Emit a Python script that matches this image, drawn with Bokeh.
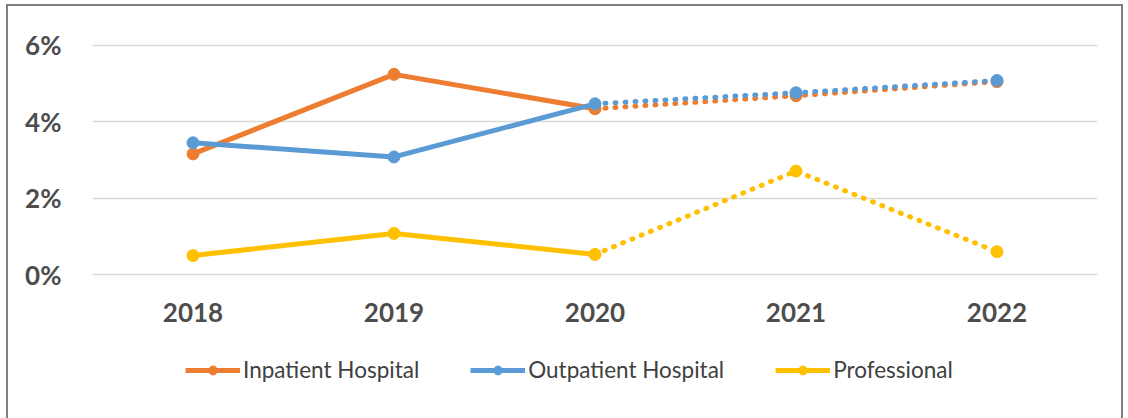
from bokeh.plotting import figure
from bokeh.layouts import column
from bokeh.models import FactorRange, Legend, LegendItem, NumeralTickFormatter, FixedTicker, InlineStyleSheet
from bokeh.embed import file_html
from bokeh.resources import INLINE

categories = ["2018", "2019", "2020", "2021", "2022"]
inpatient = [0.0316, 0.0524, 0.0434, 0.0468, 0.0505]
outpatient = [0.0345, 0.0308, 0.0447, 0.0476, 0.0508]
professional = [0.0050, 0.0108, 0.0053, 0.0271, 0.0060]
y_ticks = [0.0, 0.02, 0.04, 0.06]

series = [
    ("Inpatient Hospital", inpatient, "#ED7D31"),
    ("Outpatient Hospital", outpatient, "#5B9BD5"),
    ("Professional", professional, "#FFC000"),
]

p = figure(width=1128, height=340, output_backend="svg", toolbar_location=None,
           x_range=FactorRange(*categories, range_padding=0), y_range=(-0.001, 0.061),
           min_border_left=92, min_border_right=31, min_border_top=41, min_border_bottom=62)
p.outline_line_color = None
p.background_fill_color = "white"
p.border_fill_color = "white"

p.xgrid.grid_line_color = None
p.ygrid.grid_line_color = "#d9d9d9"
p.ygrid.grid_line_width = 1.5
p.yaxis.ticker = FixedTicker(ticks=y_ticks)
p.yaxis.formatter = NumeralTickFormatter(format="0%")

for ax in (p.xaxis, p.yaxis):
    ax.axis_line_color = None
    ax.major_tick_line_color = None
    ax.minor_tick_line_color = None
    ax.major_label_text_font = "Lato"
    ax.major_label_text_font_style = "bold"
    ax.major_label_text_font_size = "26px"
    ax.major_label_text_color = "#4d4d4d"
p.yaxis.major_label_standoff = 25
p.xaxis.major_label_standoff = 18

for name, vals, color in series:
    p.line(categories[:3], vals[:3], line_color=color, line_width=5, line_join="round")
    p.line(categories[2:], vals[2:], line_color=color, line_width=5, line_dash="1 9", line_cap="round")
    p.scatter(categories, vals, size=12, fill_color=color, line_color=color)

# legend strip below the chart (its series sit outside this strip's visible range)
lg = figure(width=1128, height=78, output_backend="svg", toolbar_location=None,
            x_range=FactorRange(*categories, range_padding=0), y_range=(1, 2),
            x_axis_location=None, y_axis_location=None,
            min_border_left=92, min_border_right=31, min_border_top=0, min_border_bottom=0)
lg.outline_line_color = None
lg.grid.visible = False
lg.background_fill_alpha = 0
lg.border_fill_alpha = 0

items = []
for name, vals, color in series:
    r1 = lg.line(categories, vals, line_color=color, line_width=5)
    r2 = lg.scatter(categories, vals, size=9, fill_color=color, line_color=color)
    items.append(LegendItem(label=name, renderers=[r1, r2]))

legend = Legend(items=items, orientation="horizontal", location=(93, 35),
                glyph_width=55, glyph_height=22, label_standoff=3, spacing=51,
                padding=0, margin=0, border_line_color=None, background_fill_alpha=0,
                label_text_font="Lato", label_text_font_size="22.5px", label_text_color="#404040")
lg.add_layout(legend, "center")

layout = column(p, lg, spacing=0)
layout.stylesheets = [InlineStyleSheet(css="""
:host { position: relative; }
:host::after {
  content: ""; position: absolute; left: 6px; top: 4px; width: 1117px; height: 440px;
  border: 2px solid #7f7f7f; pointer-events: none; box-sizing: border-box;
}
""")]

open("out.html", "w").write(file_html(layout, INLINE))
